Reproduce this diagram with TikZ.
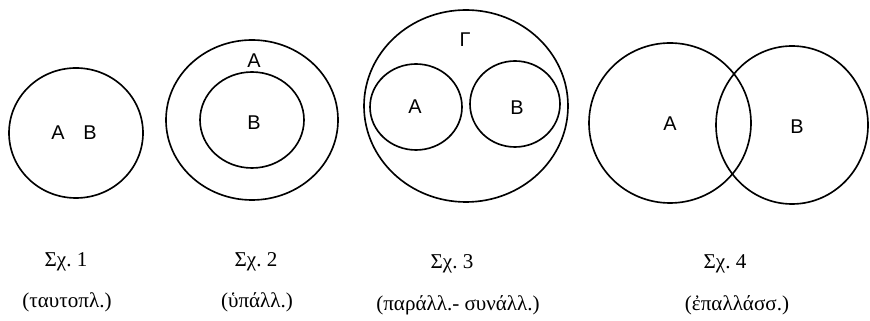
\documentclass[tikz,border=0pt]{standalone}
\usepackage{fontspec}
\setmainfont{Liberation Serif}
\newfontfamily\lettersf{Liberation Sans}
\begin{document}
\begin{tikzpicture}[x=0.03cm,y=-0.03cm,
    ring/.style={line width=1.4pt},
    setname/.style={font=\lettersf\fontsize{17}{18}\selectfont,inner sep=0pt},
    caption/.style={font=\fontsize{18}{20}\selectfont,inner sep=0pt}]
  \useasboundingbox (0,0) rectangle (870,321);
  % Fig. 1
  \draw[ring] (76,133) ellipse [x radius=67,y radius=65];
  \node[setname] (a1) at (58,133) {A};
  \node[setname] (b1) at (90,133) {B};
  % Fig. 2
  \draw[ring] (252,120) ellipse [x radius=86,y radius=80];
  \draw[ring] (252,120) ellipse [x radius=52,y radius=48];
  \node[setname] (a2) at (254,61) {A};
  \node[setname] (b2) at (254,123) {B};
  % Fig. 3
  \draw[ring] (466,106) ellipse [x radius=102,y radius=96];
  \draw[ring] (416,107) ellipse [x radius=46,y radius=43];
  \draw[ring] (515,104) ellipse [x radius=45,y radius=43];
  \node[setname] (g3) at (465,40) {Γ};
  \node[setname] (a3) at (415,107) {A};
  \node[setname] (b3) at (517,108) {B};
  % Fig. 4
  \draw[ring] (670,123) ellipse [x radius=81,y radius=80];
  \draw[ring] (792,125) ellipse [x radius=76,y radius=79];
  \node[setname] (a4) at (670,124) {A};
  \node[setname] (b4) at (797,127) {B};
  % captions
  \node[caption] (s1) at (66,262) {Σχ.~1};
  \node[caption] (t1) at (67,302) {(ταυτοπλ.)};
  \node[caption] (s2) at (256,262) {Σχ.~2};
  \node[caption] (t2) at (257,302) {(ὑπάλλ.)};
  \node[caption] (s3) at (452,264) {Σχ.~3};
  \node[caption] (t3) at (458,305) {(παράλλ.- συνάλλ.)};
  \node[caption] (s4) at (725,264) {Σχ.~4};
  \node[caption] (t4) at (737,305) {(ἐπαλλάσσ.)};
\end{tikzpicture}
\end{document}
